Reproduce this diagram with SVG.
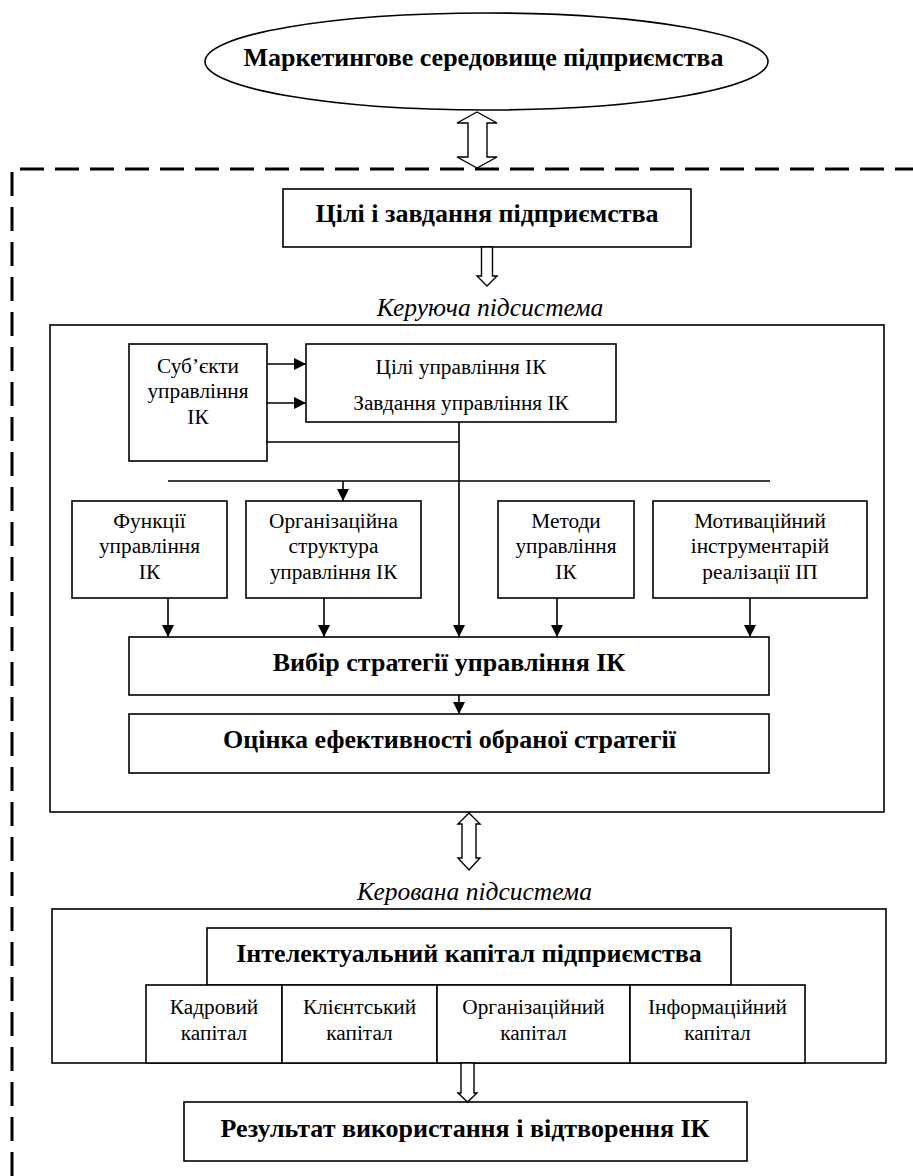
<svg xmlns="http://www.w3.org/2000/svg" width="913" height="1176" viewBox="0 0 913 1176">
<defs>
<marker id="ah" markerUnits="userSpaceOnUse" markerWidth="12" markerHeight="12" refX="12" refY="6" orient="auto">
<path d="M0,0 L12,6 L0,12 Z" fill="#000"/>
</marker>
<style>
.box{fill:#fff;stroke:#000;stroke-width:1.6}
.hol{fill:#fff;stroke:#000;stroke-width:1.4;stroke-linejoin:miter}
.ln{fill:none;stroke:#000;stroke-width:1.6}
.arr{fill:none;stroke:#000;stroke-width:1.6;marker-end:url(#ah)}
.dash{fill:none;stroke:#000;stroke-width:3;stroke-dasharray:24 11}
.b{font-family:"Liberation Serif","Times New Roman",serif;font-weight:bold;font-size:26px;text-anchor:middle;fill:#000}
.r{font-family:"Liberation Serif","Times New Roman",serif;font-size:21.3px;text-anchor:middle;fill:#000}
.i{font-family:"Liberation Serif","Times New Roman",serif;font-style:italic;font-size:25.5px;text-anchor:middle;fill:#000}
</style>
</defs>
<rect width="913" height="1176" fill="#fff"/>

<g id="boundary">
<path class="dash" d="M12,1176 V169 H913"/>
</g>

<g id="n-env">
<ellipse class="box" cx="486.5" cy="61.5" rx="281.5" ry="48.5"/>
<text class="b" x="483.5" y="66">Маркетингове середовище підприємства</text>
</g>

<g id="n-goals">
<rect class="box" x="283" y="189" width="408" height="58"/>
<text class="b" x="487" y="222">Цілі і завдання підприємства</text>
</g>

<g id="l-ctrl"><text class="i" x="490" y="316">Керуюча підсистема</text></g>
<g id="n-ctrl"><rect class="box" x="50" y="325" width="834" height="487"/></g>

<g id="n-subj">
<rect class="box" x="129" y="344" width="138" height="117"/>
<text class="r" x="198" y="373">Суб’єкти</text>
<text class="r" x="198" y="398">управління</text>
<text class="r" x="198" y="424">ІК</text>
</g>

<g id="n-mgoals">
<rect class="box" x="306" y="344" width="310" height="78"/>
<text class="r" x="461" y="374">Цілі управління ІК</text>
<text class="r" x="461" y="410">Завдання управління ІК</text>
</g>

<g id="n-func">
<rect class="box" x="72" y="501" width="155" height="97"/>
<text class="r" x="149.5" y="528">Функції</text>
<text class="r" x="149.5" y="553">управління</text>
<text class="r" x="149.5" y="579">ІК</text>
</g>
<g id="n-org">
<rect class="box" x="246" y="501" width="175" height="97"/>
<text class="r" x="333.5" y="528">Організаційна</text>
<text class="r" x="333.5" y="553">структура</text>
<text class="r" x="333.5" y="579">управління ІК</text>
</g>
<g id="n-meth">
<rect class="box" x="498" y="501" width="136" height="97"/>
<text class="r" x="566" y="528">Методи</text>
<text class="r" x="566" y="553">управління</text>
<text class="r" x="566" y="579">ІК</text>
</g>
<g id="n-motiv">
<rect class="box" x="653" y="501" width="214" height="97"/>
<text class="r" x="760" y="528">Мотиваційний</text>
<text class="r" x="760" y="553">інструментарій</text>
<text class="r" x="760" y="579">реалізації ІП</text>
</g>

<g id="n-choice">
<rect class="box" x="129" y="637" width="640" height="58"/>
<text class="b" x="449" y="671">Вибір стратегії управління ІК</text>
</g>
<g id="n-eval">
<rect class="box" x="129" y="714" width="640" height="59"/>
<text class="b" x="449.5" y="748">Оцінка ефективності обраної стратегії</text>
</g>

<g id="l-managed"><text class="i" x="474.5" y="900">Керована підсистема</text></g>
<g id="n-managed"><rect class="box" x="52" y="909" width="834" height="154"/></g>

<g id="n-ic">
<rect class="box" x="207" y="928" width="524" height="57"/>
<text class="b" x="469" y="962">Інтелектуальний капітал підприємства</text>
</g>
<g id="n-hr">
<rect class="box" x="146" y="985" width="136" height="78"/>
<text class="r" x="214" y="1014">Кадровий</text>
<text class="r" x="214" y="1040">капітал</text>
</g>
<g id="n-client">
<rect class="box" x="282" y="985" width="155" height="78"/>
<text class="r" x="359.5" y="1014">Клієнтський</text>
<text class="r" x="359.5" y="1040">капітал</text>
</g>
<g id="n-orgcap">
<rect class="box" x="437" y="985" width="193" height="78"/>
<text class="r" x="533.5" y="1014">Організаційний</text>
<text class="r" x="533.5" y="1040">капітал</text>
</g>
<g id="n-info">
<rect class="box" x="630" y="985" width="175" height="78"/>
<text class="r" x="717.5" y="1014">Інформаційний</text>
<text class="r" x="717.5" y="1040">капітал</text>
</g>

<g id="n-result">
<rect class="box" x="184" y="1102" width="563" height="59"/>
<text class="b" x="465" y="1137">Результат використання і відтворення ІК</text>
</g>

<g id="connectors">
<polygon class="hol" points="477,112 497,123 487,123 487,157 497,157 477,168 457,157 468,157 468,123 457,123"/>
<polygon class="hol" points="481.5,247 492.5,247 492.5,276 497,276 487,286 477,276 481.5,276"/>
<polygon class="hol" points="469,813 480,824 476,824 476,858 480,858 469,870 458,858 462,858 462,824 458,824"/>
<polygon class="hol" points="461,1063 474,1063 474,1093 477,1093 467.5,1102 458,1093 461,1093"/>
<path class="arr" d="M267,364 H306"/>
<path class="arr" d="M267,403 H306"/>
<path class="ln" d="M266,442 H459"/>
<path class="arr" d="M459,422 V637"/>
<path class="ln" d="M168,481 H770"/>
<path class="arr" d="M343,481 V501"/>
<path class="arr" d="M168,598 V637"/>
<path class="arr" d="M324,598 V637"/>
<path class="arr" d="M557,598 V637"/>
<path class="arr" d="M750,598 V637"/>
<path class="arr" d="M459,695 V714"/>
</g>
</svg>
